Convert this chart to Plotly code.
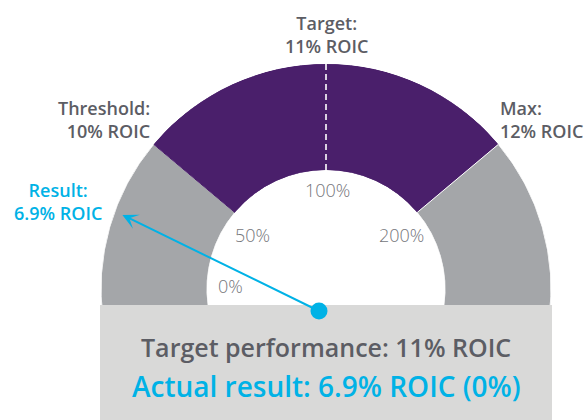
import math
import plotly.graph_objects as go

# ---------------- data ----------------
level_names = ["Threshold", "Target", "Max"]
level_roic = [10, 11, 12]            # % ROIC
payout_labels = ["0%", "50%", "100%", "200%"]
result_roic = 6.9                    # % ROIC
result_payout = "0%"

# ---------------- style / geometry ----------------
W, H = 587, 420
CX, CY, R = 326, 289, 225            # gauge centre / outer radius in px
HOLE = 119 / 225
DEG_PER_PT = 50                      # degrees of arc per 1 pt of ROIC
END_PAD = 8                          # arc extends below horizontal (hidden by box)
GRAY = "#a4a6a9"
PURPLE = "#4a1f6b"
CYAN = "#00b2e6"
TXT = "#5c5d64"
LIGHT = "#75767b"
BOX = "#d9d9d8"
FONT = "Open Sans"


def roic_to_angle(v):
    return 90 - (v - level_roic[1]) * DEG_PER_PT


def paper(px, py):
    return px / W, 1 - py / H


def polar_px(angle_deg, r_px):
    a = math.radians(angle_deg)
    return CX + r_px * math.cos(a), CY - r_px * math.sin(a)


a_thr, a_tgt, a_max = [roic_to_angle(v) for v in level_roic]
edges = [180 + END_PAD, a_thr, a_tgt, a_max, -END_PAD]
seg_theta = [(edges[i] + edges[i + 1]) / 2 for i in range(4)]
seg_width = [abs(edges[i] - edges[i + 1]) for i in range(4)]
seg_color = [GRAY, PURPLE, PURPLE, GRAY]
seg_line = ["white", PURPLE, PURPLE, "white"]

fig = go.Figure()
fig.add_trace(go.Barpolar(
    r=[1] * 4, theta=seg_theta, width=seg_width, base=0,
    marker=dict(color=seg_color, line=dict(color=seg_line, width=1)),
    hoverinfo="skip", showlegend=False,
))
fig.add_trace(go.Scatterpolar(
    r=[0, 1], theta=[a_tgt, a_tgt], mode="lines",
    line=dict(color="white", width=1.6, dash="6px,4px"),
    hoverinfo="skip", showlegend=False,
))

pad = math.sin(math.radians(END_PAD))
fig.update_layout(
    width=W, height=H,
    margin=dict(l=0, r=0, t=0, b=0),
    paper_bgcolor="white", plot_bgcolor="white",
    polar=dict(
        domain=dict(x=[(CX - R) / W, (CX + R) / W],
                    y=[1 - (CY + R * pad) / H, 1 - (CY - R) / H]),
        sector=[-END_PAD, 180 + END_PAD],
        hole=HOLE,
        bgcolor="rgba(0,0,0,0)",
        radialaxis=dict(range=[0, 1], visible=False),
        angularaxis=dict(visible=False, rotation=0, direction="counterclockwise"),
    ),
)

annotations = []
shapes = []

# level labels around the gauge
lvl_pos = [(152, 119, "right", "right"), (326, 34, "center", "center"), (498, 119, "left", "left")]
for name, v, (px, py, xa, al) in zip(level_names, level_roic, lvl_pos):
    x, y = paper(px, py)
    annotations.append(dict(
        x=x, y=y, xref="paper", yref="paper", xanchor=xa, yanchor="middle", align=al,
        text=f"{name}:<br>{v:g}% ROIC", showarrow=False,
        font=dict(family=FONT, size=18, color=TXT, weight=600),
    ))

# payout labels inside the hole
lab_angles = [178, a_thr + 3.5, a_tgt - 1, a_max - 4.5]
lab_radii = [96, 91, 99, 93]
for lab, ang, rr in zip(payout_labels, lab_angles, lab_radii):
    x, y = paper(*polar_px(ang, rr))
    annotations.append(dict(
        x=x, y=y, xref="paper", yref="paper", xanchor="center", yanchor="middle",
        text=lab, showarrow=False,
        font=dict(family=FONT, size=18, color=LIGHT, weight=300),
    ))

# result label
x, y = paper(58, 201)
annotations.append(dict(
    x=x, y=y, xref="paper", yref="paper", xanchor="center", yanchor="middle", align="center",
    text=f"Result:<br>{result_roic:g}% ROIC", showarrow=False,
    font=dict(family=FONT, size=18, color=CYAN, weight=600),
))

# bottom box
bx0, by0 = paper(100, 420)
bx1, by1 = paper(552, 305)
shapes.append(dict(type="rect", xref="paper", yref="paper", x0=bx0, x1=bx1, y0=by0, y1=by1,
                   fillcolor=BOX, line=dict(width=0), layer="above"))

# needle: result is below threshold -> points to middle of the lower grey zone
needle_angle = (180 + a_thr) / 2
tip_px = polar_px(needle_angle, 0.963 * R)
hub_px = (319, 311)
tx, ty = paper(*tip_px)
annotations.append(dict(
    x=tx, y=ty, xref="paper", yref="paper", text="", showarrow=True,
    ax=hub_px[0] - tip_px[0], ay=hub_px[1] - tip_px[1],
    arrowhead=3, arrowsize=1.3, arrowwidth=2, arrowcolor=CYAN, standoff=0, startstandoff=0,
))
dr = 8.5
d0 = paper(hub_px[0] - dr, hub_px[1] + dr)
d1 = paper(hub_px[0] + dr, hub_px[1] - dr)
shapes.append(dict(type="circle", xref="paper", yref="paper", x0=d0[0], y0=d0[1], x1=d1[0], y1=d1[1],
                   fillcolor=CYAN, line=dict(width=0), layer="above"))

# box texts
x, y = paper(326, 347)
annotations.append(dict(
    x=x, y=y, xref="paper", yref="paper", xanchor="center", yanchor="middle",
    text=f"Target performance: {level_roic[1]:g}% ROIC", showarrow=False,
    font=dict(family=FONT, size=25, color=TXT, weight=600),
))
x, y = paper(326, 386)
annotations.append(dict(
    x=x, y=y, xref="paper", yref="paper", xanchor="center", yanchor="middle",
    text=f"Actual result: {result_roic:g}% ROIC ({result_payout})", showarrow=False,
    font=dict(family=FONT, size=28, color=CYAN, weight=600),
))

fig.update_layout(annotations=annotations, shapes=shapes)
fig.write_html("out.html", config={"displayModeBar": False},
               post_script="document.body.style.margin='0';")
